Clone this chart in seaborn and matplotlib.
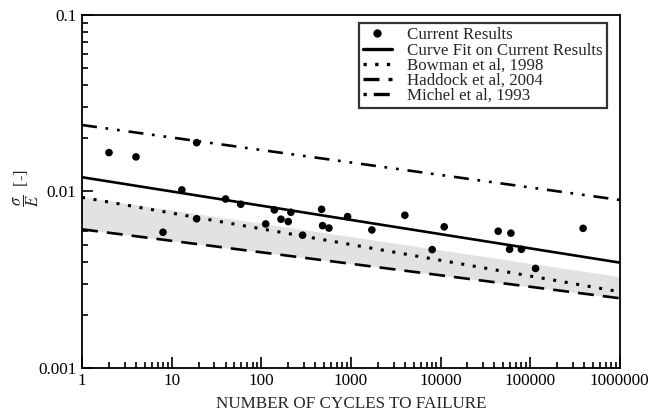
import numpy as np
import pandas as pd
import matplotlib
matplotlib.use("Agg")
import matplotlib.pyplot as plt
import matplotlib.ticker as mticker
from matplotlib.lines import Line2D
import seaborn as sns

# --- data ---
cycles = [2, 4, 19, 13, 19, 8,
          40, 59, 140, 112, 166, 200, 214, 289, 471, 483, 569, 918,
          1714, 4000, 11000, 8070,
          44000, 61000, 59000, 80000, 115000, 390000]
strain = [0.0166, 0.0157, 0.0189, 0.0102, 0.0070, 0.00587,
          0.00906, 0.00846, 0.00786, 0.00654, 0.00696, 0.00675, 0.00762, 0.00565,
          0.00792, 0.0064, 0.0062, 0.0072,
          0.00605, 0.00733, 0.0063, 0.00468,
          0.00595, 0.0058, 0.0047, 0.0047, 0.00366, 0.00618]

line_cycles = [1, 1e6]
fit_current = [0.01204, 0.00395]
bowman = [0.00926, 0.0027]
haddock = [0.0061, 0.00248]
michel = [0.0238, 0.00895]
band_upper = [0.00934, 0.00329]

x_ticks = [1, 10, 100, 1000, 10000, 100000, 1000000]
y_ticks = [0.001, 0.01, 0.1]

# --- style ---
sns.set_theme(style="ticks")
plt.rcParams["font.family"] = ["Liberation Serif", "DejaVu Serif"]
plt.rcParams["mathtext.fontset"] = "stix"
plt.rcParams["lines.scale_dashes"] = False

fig, ax = plt.subplots(figsize=(6.51, 4.18), dpi=100)
fig.subplots_adjust(left=0.126, right=0.952, top=0.964, bottom=0.12)

lw = 1.9
ax.fill_between(line_cycles, haddock, band_upper, color="#e2e2e2", lw=0, zorder=1)

sns.lineplot(x=line_cycles, y=fit_current, ax=ax, color="black", lw=lw, zorder=3)
sns.lineplot(x=line_cycles, y=bowman, ax=ax, color="black", lw=2.2,
             linestyle=(0, (2.2, 6.2)), zorder=3)
sns.lineplot(x=line_cycles, y=haddock, ax=ax, color="black", lw=lw,
             linestyle=(0, (11.5, 6.5)), zorder=3)
sns.lineplot(x=line_cycles, y=michel, ax=ax, color="black", lw=lw,
             linestyle=(0, (10.8, 6.2, 2.0, 6.4, 2.0, 6.4)), zorder=3)
sns.scatterplot(x=cycles, y=strain, ax=ax, color="black", s=30,
                edgecolor="none", zorder=4)

ax.set_xscale("log")
ax.set_yscale("log")
ax.set_xlim(1, 1e6)
ax.set_ylim(0.001, 0.1)

ax.xaxis.set_major_locator(mticker.FixedLocator(x_ticks))
ax.xaxis.set_major_formatter(mticker.FixedFormatter([str(t) for t in x_ticks]))
ax.yaxis.set_major_locator(mticker.FixedLocator(y_ticks))
ax.yaxis.set_major_formatter(mticker.FixedFormatter(["0.001", "0.01", "0.1"]))
ax.xaxis.set_minor_locator(mticker.LogLocator(base=10, subs=np.arange(2, 10)))
ax.yaxis.set_minor_locator(mticker.LogLocator(base=10, subs=np.arange(2, 10)))
ax.xaxis.set_minor_formatter(mticker.NullFormatter())
ax.yaxis.set_minor_formatter(mticker.NullFormatter())

ax.tick_params(which="both", direction="in", top=False, right=False,
               colors="black", labelsize=12.3, width=1.2)
ax.tick_params(which="major", length=8, pad=4)
ax.tick_params(which="minor", length=4.5)
for s in ax.spines.values():
    s.set_color("black")
    s.set_linewidth(1.3)

ax.set_xlabel("NUMBER OF CYCLES TO FAILURE", fontsize=12.3, labelpad=5)
ax.set_ylabel(r"$\dfrac{\sigma}{E}$  [-]", fontsize=12)
ax.yaxis.set_label_coords(-0.076, 0.51)

handles = [
    Line2D([], [], color="black", marker="o", ms=5, ls="none"),
    Line2D([], [], color="black", lw=2.4),
    Line2D([], [], color="black", lw=2.4, ls=(0, (2.4, 6.0))),
    Line2D([], [], color="black", lw=2.4, ls=(0, (11.5, 6.5))),
    Line2D([], [], color="black", lw=2.4, ls=(0, (2.4, 5.0, 11.5, 6.5))),
]
labels = ["Current Results", "Curve Fit on Current Results",
          "Bowman et al, 1998", "Haddock et al, 2004", "Michel et al, 1993"]
leg = ax.legend(handles, labels, loc="upper right", bbox_to_anchor=(0.976, 0.977),
                borderaxespad=0, fontsize=12.2, frameon=True, fancybox=False,
                labelspacing=-0.05, handlelength=1.7, handletextpad=0.9,
                borderpad=0.25)
leg.get_frame().set_edgecolor("black")
leg.get_frame().set_linewidth(1.6)

fig.savefig("out.png", dpi=100)
